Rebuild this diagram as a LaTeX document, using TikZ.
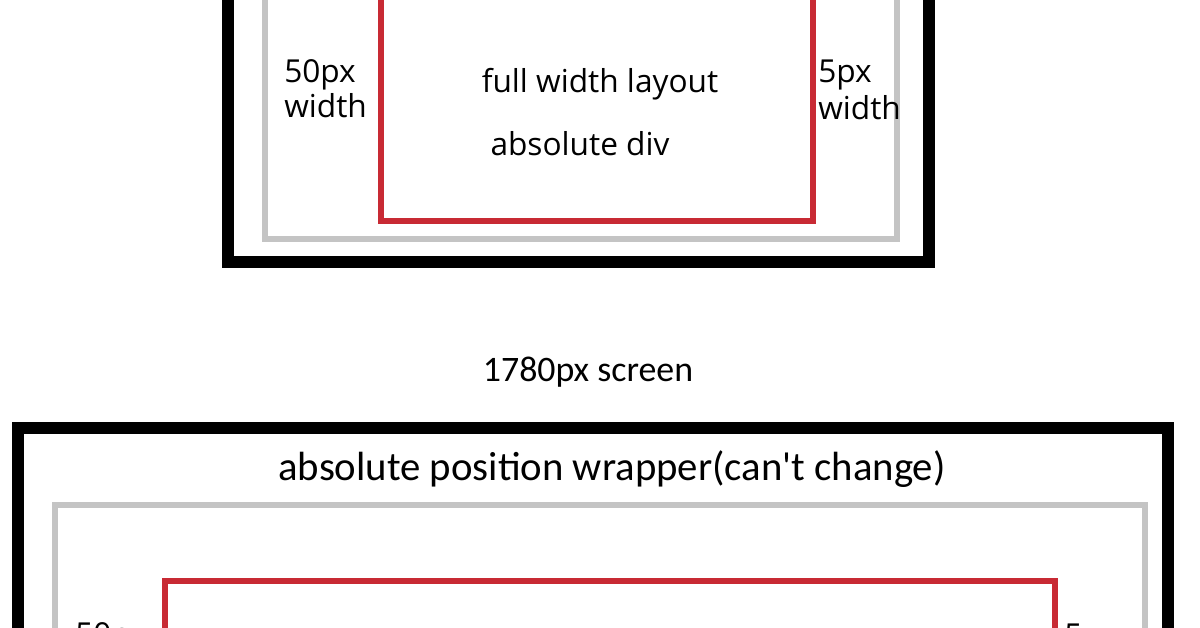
\documentclass[tikz,border=0pt]{standalone}
\usepackage{fontspec}
\setmainfont{Open Sans}
\newfontfamily\paintfont{Carlito}
\definecolor{divred}{RGB}{200,42,52}
\definecolor{wrapgray}{RGB}{196,196,196}
\tikzset{
  screenbox/.style={draw=black, line width=8.5pt},
  wrapbox/.style={draw=wrapgray, line width=4.3pt},
  divbox/.style={draw=divred, line width=4.3pt},
  note/.style={inner sep=0pt, font=\fontsize{22.5}{25.6}\selectfont},
  paintnote/.style={inner sep=0pt, font=\paintfont\fontsize{25.5}{30}\selectfont},
  wrapnote/.style={inner sep=0pt, font=\paintfont\fontsize{29}{34}\selectfont}
}
\begin{document}
\begin{tikzpicture}[x=0.025cm, y=-0.025cm]
  \useasboundingbox (0,0) rectangle (1200,628);
  \clip (0,0) rectangle (1200,628);
  % upper screen
  \draw[screenbox] (228,-40) rectangle (929,262);
  \draw[wrapbox] (265,-40) rectangle (897,239);
  \draw[divbox] (381,-40) rectangle (813,221);
  \draw
    (284,83) node[note, anchor=base west] (left50){50px}
    (284,118) node[note, anchor=base west] (left50w){width}
    (600,93) node[note, anchor=base] (layout){full width layout}
    (580,156) node[note, anchor=base] (absdiv){absolute div}
    (818,83) node[note, anchor=base west] (right5){5px}
    (818,120) node[note, anchor=base west] (right5w){width};
  % lower screen
  \draw (588,382) node[paintnote, anchor=base] (screen){1780px screen};
  \draw[screenbox] (18,428) rectangle (1168,700);
  \draw[wrapbox] (55,505) rectangle (1145,700);
  \draw[divbox] (165,581) rectangle (1055,700);
  \draw
    (612,480) node[wrapnote, anchor=base] (wrapper){absolute position wrapper(can't change)}
    (75,645) node[note, anchor=base west] (low50){50px}
    (1064,646) node[note, anchor=base west] (low5){5px};
\end{tikzpicture}
\end{document}
